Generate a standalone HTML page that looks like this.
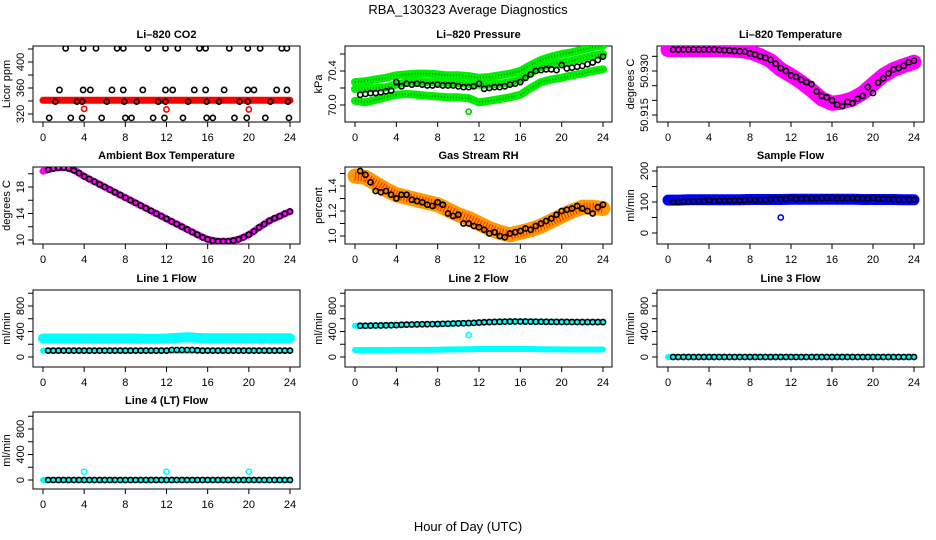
<!DOCTYPE html>
<html><head><meta charset="utf-8">
<style>
html,body{margin:0;padding:0;background:#fff;}
svg{display:block;font-family:"Liberation Sans",Arial,sans-serif;}
</style></head>
<body>
<svg id="chart" width="936" height="540" viewBox="0 0 936 540" xmlns="http://www.w3.org/2000/svg">
<rect x="0" y="0" width="936" height="540" fill="#fff"/>
<text x="468" y="14" text-anchor="middle" font-size="13">RBA_130323  Average Diagnostics</text>
<text x="468" y="531" text-anchor="middle" font-size="13">Hour of Day (UTC)</text>
</svg>
<script>
// ---- shared categories ----
const halfHours = [0.5,1,1.5,2,2.5,3,3.5,4,4.5,5,5.5,6,6.5,7,7.5,8,8.5,9,9.5,10,10.5,11,11.5,12,12.5,13,13.5,14,14.5,15,15.5,16,16.5,17,17.5,18,18.5,19,19.5,20,20.5,21,21.5,22,22.5,23,23.5,24];
const hours = [0,1,2,3,4,5,6,7,8,9,10,11,12,13,14,15,16,17,18,19,20,21,22,23,24];
const xTicks = [0,4,8,12,16,20,24];

// ---- CO2 ----
const co2Hours = [2.2,3.9,5.15,7.2,7.8,10.2,11.9,13.1,15.2,15.8,18.1,19.9,21.1,23.2,23.7,
 1.6,3.9,4.6,6.7,7.8,9.7,11.9,12.6,14.7,15.8,17.6,19.9,20.5,22.7,23.7,
 1.2,3.3,3.8,6.2,7.9,9.1,11.2,11.9,14.1,15.9,17.1,19.1,19.9,22.1,23.8,
 0.6,2.7,3.8,5.7,8.0,8.6,10.7,11.8,13.6,15.9,16.5,18.6,19.8,21.6,23.9];
const co2Vals = [421,421,421,421,421,421,421,421,421,421,421,421,421,421,421,
 357,357,357,357,357,357,357,357,357,357,357,357,357,357,357,
 339,339,339,339,339,339,339,339,339,339,339,339,339,339,339,
 314,314,314,314,314,314,314,314,314,314,314,314,314,314,314];
const co2Band = [341,341,341,341,341,341,341,341,341,341,341,341,341,341,341,341,341,341,341,341,341,341,341,341,341];
const co2OutHours = [4,12,20];
const co2OutVals = [328,327,327];

// ---- Pressure ----
const presBlack = [70.12,70.13,70.14,70.14,70.15,70.16,70.17,70.27,70.22,70.25,70.24,70.25,70.24,70.23,70.23,70.24,
 70.23,70.23,70.23,70.22,70.21,70.21,70.22,70.25,70.19,70.2,70.21,70.21,70.22,70.24,70.25,70.27,
 70.32,70.36,70.4,70.41,70.42,70.42,70.41,70.47,70.43,70.44,70.45,70.46,70.48,70.5,70.53,70.57];
const presUpper = [70.27,70.28,70.3,70.32,70.35,70.36,70.37,70.37,70.36,70.35,70.35,70.34,70.32,70.33,70.35,70.37,70.4,70.47,70.53,70.57,70.6,70.62,70.65,70.68,70.7];
const presMiddle = [70.19,70.19,70.2,70.21,70.24,70.27,70.28,70.27,70.27,70.26,70.26,70.25,70.24,70.24,70.25,70.27,70.3,70.38,70.45,70.48,70.5,70.52,70.55,70.58,70.6];
const presLower = [70.05,70.03,70.06,70.09,70.12,70.13,70.12,70.11,70.1,70.09,70.09,70.08,70.03,70.05,70.07,70.09,70.12,70.2,70.27,70.3,70.32,70.35,70.37,70.4,70.42];
const presOutHours = [11];
const presOutVals = [69.92];

// ---- Li-820 Temperature ----
const tempBlack = [50.9373,50.9373,50.9373,50.9373,50.9373,50.9373,50.9373,50.9373,
 50.9373,50.9372,50.9371,50.9370,50.9368,50.9367,50.9366,50.9360,
 50.9356,50.9350,50.9345,50.9338,50.9325,50.9310,50.9300,50.9285,
 50.9280,50.9270,50.9262,50.9255,50.9230,50.9215,50.9210,50.9200,
 50.9185,50.9180,50.9195,50.9190,50.9205,50.9215,50.9245,50.9225,
 50.9260,50.9275,50.9292,50.9305,50.9310,50.9318,50.9330,50.9335];
const tempBand = [50.9373,50.9373,50.9373,50.9373,50.9373,50.9373,50.9372,50.9370,50.9365,50.9352,50.9335,50.9305,50.9285,50.9262,50.9235,50.9205,50.9190,50.9195,50.9205,50.9225,50.9255,50.9285,50.9305,50.9318,50.9330];

// ---- Ambient ----
const ambBlack = [20.6,20.8,20.9,20.9,20.8,20.5,20.1,19.6,19.2,18.8,18.4,18.0,17.6,17.2,16.8,16.4,
 16.0,15.6,15.2,14.8,14.4,14.0,13.6,13.2,12.8,12.4,12.0,11.6,11.2,10.8,10.4,10.1,
 9.9,9.8,9.8,9.8,9.9,10.1,10.4,10.8,11.3,11.9,12.4,12.9,13.3,13.6,14.0,14.3];
const ambBand = [20.4,20.8,21.0,20.6,19.6,18.8,18.0,17.2,16.4,15.6,14.8,14.0,13.2,12.4,11.6,10.8,10.1,9.8,9.8,10.1,10.8,11.9,12.9,13.6,14.3];

// ---- RH ----
const rhBlack = [1.52,1.49,1.43,1.36,1.35,1.36,1.33,1.30,1.33,1.33,1.29,1.28,1.27,1.25,1.24,1.27,
 1.25,1.18,1.16,1.17,1.10,1.10,1.08,1.07,1.05,1.02,1.03,1.00,0.99,1.02,1.03,1.04,
 1.06,1.05,1.08,1.10,1.12,1.14,1.17,1.20,1.21,1.22,1.24,1.22,1.20,1.18,1.23,1.25];
const rhBand = [1.48,1.47,1.42,1.37,1.33,1.31,1.29,1.27,1.25,1.21,1.17,1.14,1.10,1.06,1.03,1.01,1.03,1.05,1.08,1.12,1.16,1.20,1.23,1.23,1.22];

// ---- Sample flow ----
const sampBlack = [100,100,101,101,102,102,102,106,103,104,104,104,105,105,106,107,
 106,107,107,108,109,109,110,113,110,111,111,112,112,113,113,114,
 112,112,112,112,111,111,111,113,110,110,109,109,108,108,108,108];
const sampBand = [106,106,107,107,107,107,107,107,108,108,108,108,109,109,109,109,109,109,109,108,108,108,108,107,107];
const sampOutHours = [11];
const sampOutVals = [50];

// ---- Line 1 ----
const l1Black = [100,100,100,100,100,100,100,100,100,100,100,100,100,100,100,100,
 100,100,100,100,100,100,100,100,110,110,110,110,110,105,100,100,
 100,100,100,100,100,100,100,100,100,100,100,100,100,100,100,100];
const l1Upper = [290,290,290,290,290,290,290,290,290,290,285,285,290,300,310,300,295,295,295,295,295,295,295,295,295];
const l1Lower = [100,100,100,100,100,100,100,100,100,100,100,100,100,100,100,100,100,100,100,100,100,100,100,100,100];

// ---- Line 2 ----
const l2Black = [490,490,492,494,495,497,499,500,505,508,510,512,514,515,516,517,
 520,522,525,528,530,532,535,540,545,548,550,552,555,556,557,557,
 556,555,554,553,552,551,550,550,550,549,549,548,548,548,548,548];
const l2Upper = [490,490,494,497,500,506,510,514,517,522,528,532,540,548,552,556,557,555,553,551,550,549,548,548,548];
const l2Lower = [110,110,110,110,112,112,112,112,115,118,120,122,125,125,125,125,125,125,122,120,120,118,118,118,118];
const l2OutHours = [11];
const l2OutVals = [345];

// ---- Line 3 ----
const l3Black = [0,0,0,0,0,0,0,0,0,0,0,0,0,0,0,0,0,0,0,0,0,0,0,0,0,0,0,0,0,0,0,0,0,0,0,0,0,0,0,0,0,0,0,0,0,0,0,0];
const l3Band = [0,0,0,0,0,0,0,0,0,0,0,0,0,0,0,0,0,0,0,0,0,0,0,0,0];

// ---- Line 4 ----
const l4Black = [0,0,0,0,0,0,0,0,0,0,0,0,0,0,0,0,0,0,0,0,0,0,0,0,0,0,0,0,0,0,0,0,0,0,0,0,0,0,0,0,0,0,0,0,0,0,0,0];
const l4Band = [0,0,0,0,0,0,0,0,0,0,0,0,0,0,0,0,0,0,0,0,0,0,0,0,0];
const l4OutHours = [4,12,20];
const l4OutVals = [130,130,130];

// ---- tick arrays ----
const co2Ticks = [320,340,360,380,400,420], co2Labels = ["320","","360","","400",""];
const presTicks = [70.0,70.2,70.4,70.6], presLabels = ["70.0","","70.4",""];
const tempTicks = [50.915,50.920,50.925,50.930,50.935], tempLabels = ["50.915","","","50.930",""];
const ambTicks = [10,12,14,16,18,20], ambLabels = ["10","","14","","18",""];
const rhTicks = [1.0,1.1,1.2,1.3,1.4,1.5], rhLabels = ["1.0","","1.2","","1.4",""];
const sampTicks = [0,50,100,150,200], sampLabels = ["0","","100","","200"];
const flowTicks = [0,200,400,600,800,1000], flowLabels = ["0","","400","","800",""];

const NS = "http://www.w3.org/2000/svg";
const svg = document.getElementById("chart");
const colL = [33,345,657], colR = [300,612,924], colX0 = [43,355,668], colX24 = [290,603,914];
const rowT = [46,167,290,412], rowB = [122,244,367,489];

function mk(tag, attrs, parent){
  const e = document.createElementNS(NS, tag);
  for (const k in attrs) e.setAttribute(k, attrs[k]);
  (parent||svg).appendChild(e);
  return e;
}

function panel(cfg){
  const g = mk("g", {});
  
  
  const L = colL[cfg.col], R = colR[cfg.col], T = rowT[cfg.row], B = rowB[cfg.row];
  const x0 = colX0[cfg.col], x24 = colX24[cfg.col];
  const xs = h => x0 + (x24 - x0) * h / 24;
  const pA = T + cfg.pa, pB = T + cfg.pb;
  const ys = v => pA + (v - cfg.va) * (pB - pA) / (cfg.vb - cfg.va);
  // title
  const t = mk("text", {x:(L+R)/2, y:T-8, "text-anchor":"middle", "font-size":"11", "font-weight":"bold"}, g);
  t.textContent = cfg.title;
  
  
  // box
  const box = mk("rect", {x:L, y:T, width:R-L, height:B-T, fill:"none", stroke:"#000", "stroke-width":"1"}, g);
  
  
  // x axis
  const xa = mk("g", {}, g);
  
  
  mk("line", {x1:xs(0), x2:xs(24), y1:B, y2:B, stroke:"#000"}, xa);
  xTicks.forEach(h => {
    mk("line", {x1:xs(h), x2:xs(h), y1:B, y2:B+5, stroke:"#000"}, xa);
    const lb = mk("text", {x:xs(h), y:B+19, "text-anchor":"middle", "font-size":"11"}, xa);
    lb.textContent = h;
    
    
  });
  // y axis
  const ya = mk("g", {}, g);
  
  
  const tk = cfg.ticks;
  mk("line", {x1:L, x2:L, y1:ys(tk[0]), y2:ys(tk[tk.length-1]), stroke:"#000"}, ya);
  tk.forEach((v,i) => {
    const y = ys(v);
    mk("line", {x1:L-5, x2:L, y1:y, y2:y, stroke:"#000"}, ya);
    if (cfg.labels[i]) {
      const lb = mk("text", {x:0, y:0, "text-anchor":"middle", "font-size":"11", transform:`translate(${L-9},${y}) rotate(-90)`}, ya);
      lb.textContent = cfg.labels[i];
      
      
    }
  });
  const yt = mk("text", {x:0, y:0, "text-anchor":"middle", "font-size":"11", transform:`translate(${L-23},${(T+B)/2}) rotate(-90)`}, g);
  yt.textContent = cfg.ytitle;
  
  
  // clip
  const cid = "clip-" + cfg.name;
  const cp = mk("clipPath", {id:cid}, g);
  mk("rect", {x:L, y:T, width:R-L, height:B-T}, cp);
  const data = mk("g", {"clip-path":`url(#${cid})`}, g);
  
  
  // bands
  (cfg.bands||[]).forEach(bd => {
    const pts = hours.map((h,i) => xs(h).toFixed(1) + "," + ys(bd.vals[i]).toFixed(1)).join(" ");
    const pl = mk("polyline", {points:pts, fill:"none", stroke:bd.color, "stroke-width":bd.w, "stroke-linejoin":"round", "stroke-linecap":"round"}, data);
    
    
    if (bd.dot) {
      const p2 = mk("polyline", {points:pts, fill:"none", stroke:bd.dot, "stroke-width":Math.max(1,bd.w-6), "stroke-dasharray":"1 2", "stroke-linejoin":"round"}, data);
      
      
    }
  });
  // outliers
  if (cfg.outH) cfg.outH.forEach((h,i) => {
    const c = mk("circle", {cx:xs(h), cy:ys(cfg.outV[i]), r:2.6, fill:"none", stroke:cfg.outColor, "stroke-width":"1.6"}, data);
    
    
  });
  // black points
  const bh = cfg.blackHours || halfHours;
  cfg.black.forEach((v,i) => {
    const c = mk("circle", {cx:xs(bh[i]), cy:ys(v), r:2.6, fill:"none", stroke:"#000", "stroke-width":"1.6"}, data);
    
    
  });
}

panel({name:"co2", title:"Li\u2013820 CO2", ytitle:"Licor ppm", col:0, row:0, va:320, pa:68, vb:400, pb:16,
  ticks:co2Ticks, labels:co2Labels, bands:[{vals:co2Band, color:"#ff0000", w:7}],
  outH:co2OutHours, outV:co2OutVals, outColor:"#ff0000", black:co2Vals, blackHours:co2Hours});
panel({name:"pressure", title:"Li\u2013820 Pressure", ytitle:"kPa", col:1, row:0, va:70.0, pa:59, vb:70.4, pb:25,
  ticks:presTicks, labels:presLabels,
  bands:[{vals:presUpper, color:"#00ee00", w:8, dot:"#009900"},{vals:presMiddle, color:"#00ee00", w:8, dot:"#009900"},{vals:presLower, color:"#00ee00", w:8, dot:"#009900"}],
  outH:presOutHours, outV:presOutVals, outColor:"#00cc00", black:presBlack});
panel({name:"li820-temperature", title:"Li\u2013820 Temperature", ytitle:"degrees C", col:2, row:0, va:50.915, pa:69, vb:50.930, pb:25,
  ticks:tempTicks, labels:tempLabels, bands:[{vals:tempBand, color:"#ff00ff", w:15}], black:tempBlack});
panel({name:"ambient-temperature", title:"Ambient Box Temperature", ytitle:"degrees C", col:0, row:1, va:10, pa:73, vb:18, pb:20,
  ticks:ambTicks, labels:ambLabels, bands:[{vals:ambBand, color:"#ff00ff", w:7}], black:ambBlack});
panel({name:"gas-stream-rh", title:"Gas Stream RH", ytitle:"percent", col:1, row:1, va:1.0, pa:69, vb:1.4, pb:19,
  ticks:rhTicks, labels:rhLabels, bands:[{vals:rhBand, color:"#ff9900", w:15, dot:"#ff2200"}], black:rhBlack});
panel({name:"sample-flow", title:"Sample Flow", ytitle:"ml/min", col:2, row:1, va:0, pa:66, vb:200, pb:4,
  ticks:sampTicks, labels:sampLabels, bands:[{vals:sampBand, color:"#0000ff", w:11}],
  outH:sampOutHours, outV:sampOutVals, outColor:"#0000ff", black:sampBlack});
panel({name:"line1-flow", title:"Line 1 Flow", ytitle:"ml/min", col:0, row:2, va:0, pa:67, vb:800, pb:16,
  ticks:flowTicks, labels:flowLabels, bands:[{vals:l1Upper, color:"#00ffff", w:10},{vals:l1Lower, color:"#00ffff", w:6}], black:l1Black});
panel({name:"line2-flow", title:"Line 2 Flow", ytitle:"ml/min", col:1, row:2, va:0, pa:67, vb:800, pb:16,
  ticks:flowTicks, labels:flowLabels, bands:[{vals:l2Upper, color:"#00ffff", w:6},{vals:l2Lower, color:"#00ffff", w:6}],
  outH:l2OutHours, outV:l2OutVals, outColor:"#00ffff", black:l2Black});
panel({name:"line3-flow", title:"Line 3 Flow", ytitle:"ml/min", col:2, row:2, va:0, pa:67, vb:800, pb:16,
  ticks:flowTicks, labels:flowLabels, bands:[{vals:l3Band, color:"#00ffff", w:6}], black:l3Black});
panel({name:"line4-flow", title:"Line 4 (LT) Flow", ytitle:"ml/min", col:0, row:3, va:0, pa:68, vb:800, pb:17,
  ticks:flowTicks, labels:flowLabels, bands:[{vals:l4Band, color:"#00ffff", w:6}],
  outH:l4OutHours, outV:l4OutVals, outColor:"#00ffff", black:l4Black});
</script>
</body></html>
